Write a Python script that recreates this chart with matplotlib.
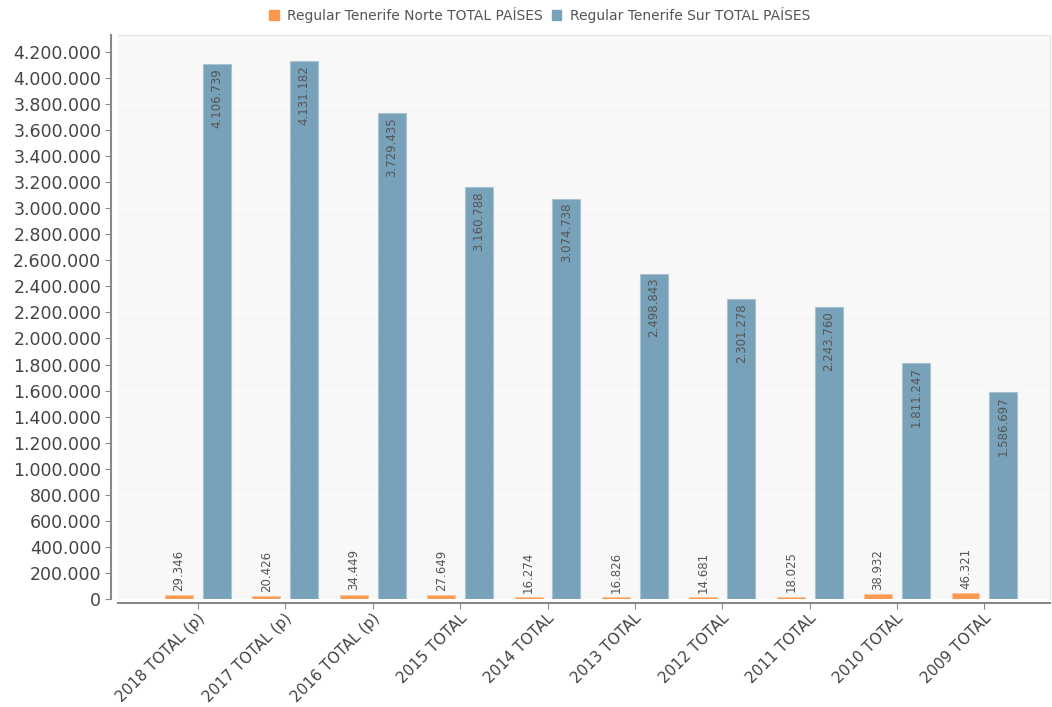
import numpy as np
import matplotlib.pyplot as plt
from matplotlib.ticker import FuncFormatter, MultipleLocator
from matplotlib.patches import Patch

categories = ['2018 TOTAL (p)', '2017 TOTAL (p)', '2016 TOTAL (p)', '2015 TOTAL',
              '2014 TOTAL', '2013 TOTAL', '2012 TOTAL', '2011 TOTAL',
              '2010 TOTAL', '2009 TOTAL']
norte = [29346, 20426, 34449, 27649, 16274, 16826, 14681, 18025, 38932, 46321]
sur = [4106739, 4131182, 3729435, 3160788, 3074738, 2498843, 2301278, 2243760,
       1811247, 1586697]
series_names = ['Regular Tenerife Norte TOTAL PAÍSES', 'Regular Tenerife Sur TOTAL PAÍSES']

c_norte = '#fa994e'
c_sur = '#78a2b9'
txt = '#555555'


def fmt(v):
    return f'{int(round(v)):,}'.replace(',', '.')


fig = plt.figure(figsize=(10.52, 7.07), dpi=100)
ax = fig.add_axes([118 / 1052, (707 - 599) / 707, (1050 - 118) / 1052, (599 - 35) / 707])
ax.set_facecolor('#f8f8f8')

x = np.arange(len(categories))
w = 0.32
off = 0.217
b1 = ax.bar(x - off, norte, w, color=c_norte, edgecolor='#fbc39a', linewidth=0.8)
b2 = ax.bar(x + off, sur, w, color=c_sur, edgecolor='#a9c3d2', linewidth=0.8)

for bar, v in zip(b1, norte):
    ax.annotate(fmt(v), (bar.get_x() + bar.get_width() / 2, v), xytext=(0, 3),
                textcoords='offset points', rotation=90, ha='center', va='bottom',
                fontsize=8.5, color=txt)
for bar, v in zip(b2, sur):
    ax.annotate(fmt(v), (bar.get_x() + bar.get_width() / 2, v), xytext=(0, -3),
                textcoords='offset points', rotation=90, ha='center', va='top',
                fontsize=8.5, color=txt)

ax.set_xlim(-0.915, 9.75)
ax.set_ylim(0, 4330000)
ax.yaxis.set_major_locator(MultipleLocator(200000))
ax.yaxis.set_major_formatter(FuncFormatter(lambda v, p: fmt(v)))
ax.grid(axis='y', color='#fdfdfd', lw=1)
ax.set_axisbelow(True)

ax.set_xticks(x)
ax.set_xticklabels([])
ax.tick_params(axis='x', colors='#888888', length=4)
ax.tick_params(axis='y', labelsize=12.5, colors='#888888', labelcolor='#444444', length=4, pad=3)
for xi, lab in zip(x, categories):
    ax.annotate(lab, (xi, 0), xycoords=('data', 'axes fraction'), xytext=(3, -12),
                textcoords='offset points', rotation=45, ha='right', va='center',
                rotation_mode='anchor', fontsize=11, color='#444444')

for s in ['top', 'right']:
    ax.spines[s].set_color('#e4e4e4')
ax.spines['left'].set_position(('outward', 5))
ax.spines['bottom'].set_position(('outward', 3))
ax.spines['left'].set_color('#888888')
ax.spines['bottom'].set_color('#888888')
ax.spines['left'].set_linewidth(1.5)
ax.spines['bottom'].set_linewidth(1.5)

handles = [Patch(color=c_norte, label=series_names[0]), Patch(color=c_sur, label=series_names[1])]
fig.legend(handles=handles, loc='upper center', bbox_to_anchor=(0.513, 1.008), ncol=2,
           frameon=False, fontsize=10, labelcolor=txt, handlelength=0.7, handleheight=0.7,
           handletextpad=0.6, columnspacing=0.6)

plt.savefig('out.png', dpi=100)
plt.close()
